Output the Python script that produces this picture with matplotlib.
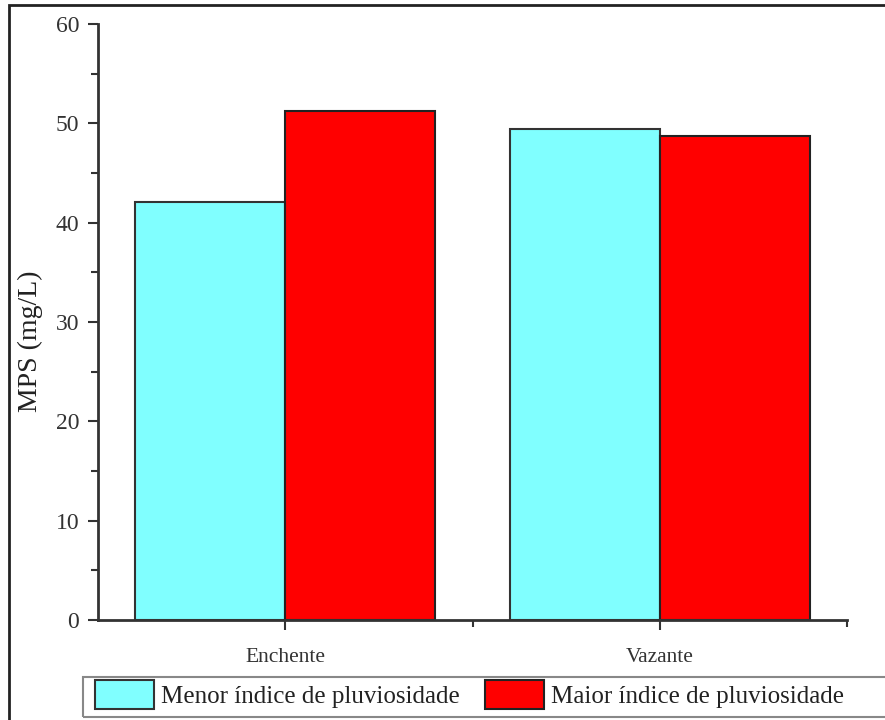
import matplotlib.pyplot as plt
from matplotlib.patches import Rectangle
import numpy as np

plt.rcParams['font.family'] = ['Liberation Serif', 'DejaVu Serif']

# data
categories = ['Enchente', 'Vazante']
menor = [42.1, 49.4]
maior = [51.2, 48.7]
series_names = ['Menor índice de pluviosidade', 'Maior índice de pluviosidade']
colors = ['#80FFFF', '#FF0000']

fig = plt.figure(figsize=(8.85, 7.2), dpi=100)
ax = fig.add_axes([98/885, 1 - 620/720, (847 - 98)/885, (620 - 24)/720])

x = np.arange(1, len(categories) + 1)
w = 0.4
b1 = ax.bar(x - w/2, menor, w, color=colors[0], edgecolor='#333333', linewidth=1.5, label=series_names[0])
b2 = ax.bar(x + w/2, maior, w, color=colors[1], edgecolor='#222222', linewidth=1.5, label=series_names[1])

ax.set_xlim(0.5, 2.5)
ax.set_ylim(0, 60)
ax.set_xticks(x)
ax.set_xticklabels(categories, fontsize=15.5, color='#333333')
ax.set_xticks([1.5, 2.5], minor=True)
ax.set_yticks(np.arange(0, 61, 10))
ax.set_yticks(np.arange(5, 60, 10), minor=True)
ax.tick_params(axis='y', labelsize=17, labelcolor='#333333')
ax.tick_params(which='major', direction='out', length=7.5, width=1.5, color='#333333', pad=6)
ax.tick_params(which='minor', direction='out', length=5, width=1.5, color='#333333')
ax.tick_params(axis='x', which='major', pad=13)

ax.set_ylabel('MPS (mg/L)', fontsize=20, color='#222222')
ax.yaxis.set_label_coords(-0.073, 0.468)

for s in ['top', 'right']:
    ax.spines[s].set_visible(False)
for s in ['left', 'bottom']:
    ax.spines[s].set_linewidth(2)
    ax.spines[s].set_color('#333333')

leg = fig.legend(handles=[b1, b2], loc='upper left',
                 bbox_to_anchor=(95/885, 1 - 680/720), ncol=2, fontsize=18,
                 frameon=False, handlelength=2.35, handleheight=1.4,
                 handletextpad=0.3, columnspacing=1.0, borderpad=0,
                 borderaxespad=0)
for t in leg.get_texts():
    t.set_color('#222222')

# legend box
fig.patches.append(Rectangle((83/885, 1 - 717/720), 1.0, 40/720, transform=fig.transFigure,
                             fill=False, edgecolor='#888888', linewidth=1.5))

# outer frame around the figure (top and left visible)
fig.patches.append(Rectangle((9/885, -0.1), 1.2, 1 - 5/720 + 0.1, transform=fig.transFigure,
                             fill=False, edgecolor='#222222', linewidth=2))

fig.savefig('out.png', dpi=100)
